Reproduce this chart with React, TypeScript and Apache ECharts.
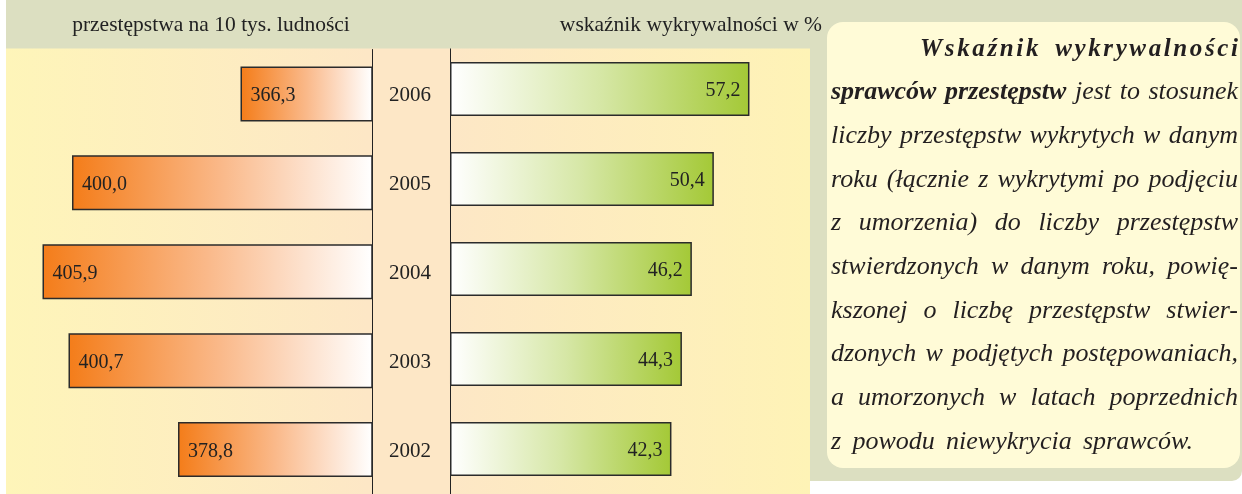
import React, { useEffect, useRef } from "react";
import * as echarts from "echarts";

const years = ["2006", "2005", "2004", "2003", "2002"];
const crimeRate = [366.3, 400.0, 405.9, 400.7, 378.8];
const detectionRate = [57.2, 50.4, 46.2, 44.3, 42.3];
const leftTitle = "przestępstwa na 10 tys. ludności";
const rightTitle = "wskaźnik wykrywalności w %";
const noteHeading = ["Wskaźnik", "wykrywalności"];
const noteBody: { text: string; bold?: boolean }[][] = [
  [{ text: "sprawców przestępstw", bold: true }, { text: "jest to stosunek" }],
  [{ text: "liczby przestępstw wykrytych w danym" }],
  [{ text: "roku (łącznie z wykrytymi po podjęciu" }],
  [{ text: "z umorzenia) do liczby przestępstw" }],
  [{ text: "stwierdzonych w danym roku, powię-" }],
  [{ text: "kszonej o liczbę przestępstw stwier-" }],
  [{ text: "dzonych w podjętych postępowaniach," }],
  [{ text: "a umorzonych w latach poprzednich" }],
  [{ text: "z powodu niewykrycia sprawców." }],
];

const FONT = "Liberation Serif";
const fmt = (v: number) => v.toFixed(1).replace(".", ",");

function buildNote(): any[] {
  const ctx = document.createElement("canvas").getContext("2d")!;
  const bodySize = 26;
  const headSize = 25;
  const measure = (s: string, bold: boolean, size: number) => {
    ctx.font = `italic ${bold ? "bold " : ""}${size}px "${FONT}"`;
    return ctx.measureText(s).width;
  };
  const els: any[] = [];
  const lineY = (i: number) => 47 + i * 43.7;
  const L = 831;
  const R = 1238;
  const textEl = (t: string, x: number, y: number, bold: boolean, size: number) => ({
    type: "text",
    x,
    y,
    z: 12,
    style: {
      text: t,
      fontSize: size,
      fontFamily: FONT,
      fontStyle: "italic",
      fontWeight: bold ? "bold" : "normal",
      fill: "#231f20",
      align: "left",
      verticalAlign: "middle",
    },
  });
  // heading: letter-spaced, spanning 920..R
  const c1 = noteHeading[0].split("");
  const c2 = noteHeading[1].split("");
  const letters = [...c1, ...c2].reduce((a, c) => a + measure(c, true, headSize), 0);
  const space = measure(" ", true, headSize);
  const hStart = 920;
  const ls = Math.max(0, (R - hStart - letters - space) / (c1.length - 1 + c2.length - 1 + 4));
  let x = hStart;
  c1.forEach((c) => {
    els.push(textEl(c, x, lineY(0), true, headSize));
    x += measure(c, true, headSize) + ls;
  });
  x += space + 3 * ls;
  c2.forEach((c) => {
    els.push(textEl(c, x, lineY(0), true, headSize));
    x += measure(c, true, headSize) + ls;
  });
  // body justified
  noteBody.forEach((segs, i) => {
    const words: { t: string; b: boolean }[] = [];
    segs.forEach((s) => s.text.split(" ").forEach((w) => words.push({ t: w, b: !!s.bold })));
    const widths = words.map((w) => measure(w.t, w.b, bodySize));
    const sum = widths.reduce((a, b) => a + b, 0);
    const right = i === noteBody.length - 1 ? 1193 : R;
    const gap = (right - L - sum) / (words.length - 1);
    let cx = L;
    words.forEach((w, k) => {
      els.push(textEl(w.t, cx, lineY(i + 1), w.b, bodySize));
      cx += widths[k] + gap;
    });
  });
  return els;
}

export default function App() {
  const ref = useRef<HTMLDivElement>(null);
  useEffect(() => {
    const chart = echarts.init(ref.current!, undefined, { renderer: "svg" });
    const bgGrad = new echarts.graphic.LinearGradient(0, 0, 1, 0, [
      { offset: 0, color: "#fef5b9" },
      { offset: 0.45, color: "#fde7c6" },
      { offset: 0.55, color: "#fde7c6" },
      { offset: 1, color: "#fef3b6" },
    ]);
    const option: any = {
      animation: false,
      grid: [
        { left: 12, top: 49.5, width: 360, height: 449.5 },
        { left: 450, top: 44, width: 356, height: 457 },
      ],
      xAxis: [
        { type: "value", gridIndex: 0, min: 340, max: 412, inverse: true, show: false },
        { type: "value", gridIndex: 1, min: 0, max: 68, show: false },
      ],
      yAxis: [
        {
          type: "category",
          gridIndex: 0,
          data: years,
          inverse: true,
          position: "right",
          axisLine: { show: true, lineStyle: { color: "#222", width: 1 } },
          axisTick: { show: false },
          splitLine: { show: false },
          axisLabel: { show: true, margin: 38, align: "center", fontSize: 21, fontFamily: FONT, color: "#222" },
        },
        {
          type: "category",
          gridIndex: 1,
          data: years,
          inverse: true,
          position: "left",
          axisLine: { show: true, lineStyle: { color: "#222", width: 1 } },
          axisTick: { show: false },
          splitLine: { show: false },
          axisLabel: { show: false },
        },
      ],
      series: [
        {
          type: "bar",
          xAxisIndex: 0,
          yAxisIndex: 0,
          data: crimeRate,
          barWidth: 55,
          itemStyle: {
            color: new echarts.graphic.LinearGradient(0, 0, 1, 0, [
              { offset: 0, color: "#f47d1a" },
              { offset: 0.5, color: "#fab98a" },
              { offset: 1, color: "#ffffff" },
            ]),
            borderColor: "#2b2b2b",
            borderWidth: 1.5,
          },
          label: {
            show: true,
            position: "insideLeft",
            distance: 10,
            formatter: (p: any) => fmt(p.value),
            fontSize: 20,
            fontFamily: FONT,
            color: "#222",
          },
        },
        {
          type: "bar",
          xAxisIndex: 1,
          yAxisIndex: 1,
          data: detectionRate,
          barWidth: 54,
          itemStyle: {
            color: new echarts.graphic.LinearGradient(0, 0, 1, 0, [
              { offset: 0, color: "#ffffff" },
              { offset: 0.5, color: "#d6e7a6" },
              { offset: 1, color: "#a4c937" },
            ]),
            borderColor: "#2b2b2b",
            borderWidth: 1.5,
          },
          label: {
            show: true,
            position: "insideRight",
            distance: 9,
            formatter: (p: any) => fmt(p.value),
            fontSize: 20,
            fontFamily: FONT,
            color: "#222",
          },
        },
      ],
      graphic: {
        elements: [
          { type: "rect", z: -10, shape: { x: 6, y: 48, width: 804, height: 446 }, style: { fill: bgGrad } },
          { type: "rect", z: -10, shape: { x: 810, y: 0, width: 432, height: 481, r: [0, 0, 10, 0] }, style: { fill: "#dcdfc1" } },
          { type: "rect", z: 10, shape: { x: 6, y: 0, width: 1236, height: 48.5 }, style: { fill: "#dcdfc1" } },
          { type: "rect", z: 11, shape: { x: 827, y: 22, width: 413, height: 446, r: 16 }, style: { fill: "#fffbd7" } },
          {
            type: "text",
            z: 12,
            x: 211,
            y: 24,
            style: { text: leftTitle, fontSize: 21.5, fontFamily: FONT, fill: "#222", align: "center", verticalAlign: "middle" },
          },
          {
            type: "text",
            z: 12,
            x: 822,
            y: 24,
            style: { text: rightTitle, fontSize: 21.5, fontFamily: FONT, fill: "#222", align: "right", verticalAlign: "middle" },
          },
          ...buildNote(),
        ],
      },
    };
    chart.setOption(option);
    return () => chart.dispose();
  }, []);
  return <div ref={ref} style={{ position: "fixed", left: 0, top: 0, width: 1242, height: 494 }} />;
}
